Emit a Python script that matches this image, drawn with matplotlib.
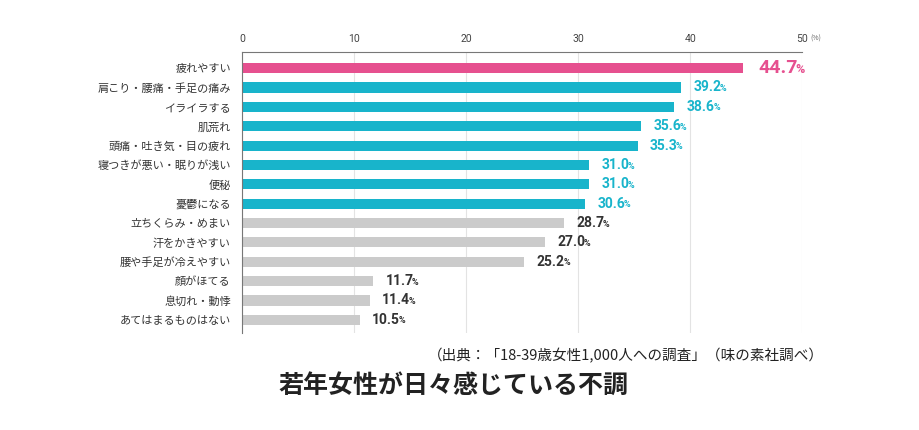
import matplotlib
matplotlib.use("Agg")
import matplotlib.pyplot as plt

plt.rcParams["font.family"] = ["Noto Sans CJK JP", "DejaVu Sans"]

# データ（上から順）
categories = [
    "疲れやすい", "肩こり・腰痛・手足の痛み", "イライラする", "肌荒れ",
    "頭痛・吐き気・目の疲れ", "寝つきが悪い・眠りが浅い", "便秘", "憂鬱になる",
    "立ちくらみ・めまい", "汗をかきやすい", "腰や手足が冷えやすい", "顔がほてる",
    "息切れ・動悸", "あてはまるものはない",
]
values = [44.7, 39.2, 38.6, 35.6, 35.3, 31.0, 31.0, 30.6, 28.7, 27.0, 25.2, 11.7, 11.4, 10.5]
groups = ["top"] + ["high"] * 7 + ["low"] * 6
ticks = [0, 10, 20, 30, 40, 50]

PINK, CYAN, GRAY = "#E6508F", "#18B4CB", "#CBCBCB"
bar_col = {"top": PINK, "high": CYAN, "low": GRAY}
txt_col = {"top": PINK, "high": CYAN, "low": "#333333"}

fig = plt.figure(figsize=(9.2, 4.3), dpi=100)
ax = fig.add_axes([0.263, 0.226, 0.609, 0.653])

ys = list(range(len(values)))
ax.barh(ys, values, height=0.52, color=[bar_col[g] for g in groups], zorder=2)
ax.set_xlim(0, 50)
ax.set_ylim(len(values) - 0.33, -0.83)

ax.xaxis.tick_top()
ax.set_xticks(ticks)
ax.set_xticklabels([str(t) for t in ticks], fontsize=7.5, color="#444444", family="Roboto")
ax.tick_params(axis="x", length=0, pad=6)
ax.grid(axis="x", color="#E3E3E3", lw=0.8, zorder=0)
ax.set_yticks(ys)
ax.set_yticklabels(categories, fontsize=8, color="#333333")
ax.tick_params(axis="y", length=0, pad=8)
for s in ["right", "bottom"]:
    ax.spines[s].set_visible(False)
ax.spines["top"].set_color("#777777")
ax.spines["left"].set_color("#777777")

# 「50」の右に (%)
lab50 = ax.get_xticklabels()[-1]
fig.canvas.draw()
ax.annotate("(%)", xy=(1, 0), xycoords=lab50, xytext=(1.5, 0.5), textcoords="offset points",
            fontsize=5, color="#666666", va="bottom", ha="left")

# 数値ラベル
for y, v, g in zip(ys, values, groups):
    size = 14 if g == "top" else 10
    off = 11 if g == "top" else 9
    t = ax.annotate(f"{v:.1f}", xy=(v, y), xytext=(off, 0), textcoords="offset points",
                    fontsize=size, fontweight="bold", color=txt_col[g], va="center",
                    ha="left", family="Roboto", annotation_clip=False)
    ax.annotate("%", xy=(1, 0), xycoords=t, xytext=(-1.2, 1), textcoords="offset points",
                fontsize=size * 0.65, fontweight="bold", color=txt_col[g], va="bottom",
                ha="left", family="Roboto")

fig.text(0.895, 0.172, "（出典：「18-39歳女性1,000人への調査」（味の素社調べ）",
         fontsize=10.5, color="#222222", ha="right", va="center")
fig.text(0.303, 0.103, "若年女性が日々感じている不調", fontsize=18,
         fontweight="bold", color="#222222", ha="left", va="center")

fig.savefig("out.png", dpi=100)
